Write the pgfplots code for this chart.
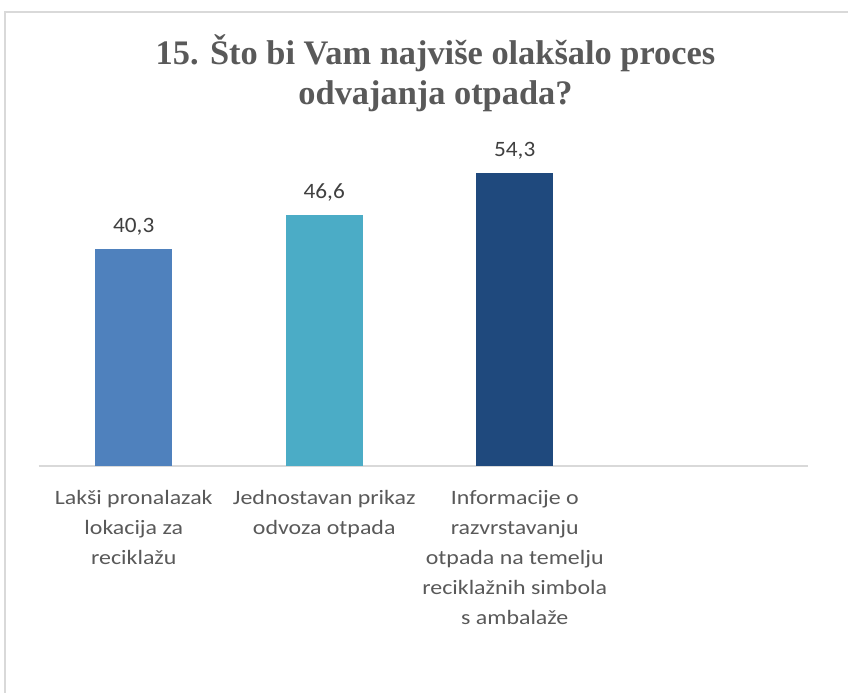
\documentclass[border=0pt]{standalone}
\usepackage{pgfplots}
\pgfplotsset{compat=1.18}
\usepackage{fontspec}
\setmainfont{Carlito}
\newfontfamily\labfont[FakeStretch=1.17]{Carlito}
\newfontfamily\numfont[FakeStretch=1.06]{Carlito}
\newfontfamily\titlefont{Liberation Serif}
\definecolor{barA}{HTML}{4F81BD}
\definecolor{barB}{HTML}{4BACC6}
\definecolor{barC}{HTML}{1F497D}
\definecolor{txt}{HTML}{404040}
\definecolor{lab}{HTML}{595959}
\definecolor{ttl}{HTML}{595959}
\definecolor{frame}{HTML}{D9D9D9}
\begin{document}
\begin{tikzpicture}[x=1bp,y=1bp]
\useasboundingbox (0,0) rectangle (848,693);
\fill[white] (0,0) rectangle (848,693);
\draw[frame, line width=1.5bp] (5,0) -- (5,681) -- (848,681);
\node[anchor=base, inner sep=0pt, font=\titlefont\bfseries\fontsize{34.5}{40}\selectfont, text=ttl] at (435.5,628) {15. Što bi Vam najviše olakšalo proces};
\node[anchor=base, inner sep=0pt, font=\titlefont\bfseries\fontsize{34.5}{40}\selectfont, text=ttl] at (435.5,588) {odvajanja otpada?};
\begin{axis}[
  at={(38.5bp,227bp)}, anchor=south west,
  scale only axis,
  width=769.6bp, height=323.8bp,
  xmin=-0.5, xmax=3.54, ymin=0, ymax=60,
  axis x line*=bottom, axis y line=none,
  x axis line style={draw=frame, line width=2bp, -},
  xtick={0,1,2}, major tick length=0pt,
  xticklabels={{Lakši pronalazak\\lokacija za\\reciklažu},{Jednostavan prikaz\\odvoza otpada},{Informacije o\\razvrstavanju\\otpada na temelju\\reciklažnih simbola\\s ambalaže}},
  xticklabel style={align=center, font=\labfont\fontsize{20.5}{30}\selectfont, text=lab, yshift=-21bp},
  ybar, bar width=77bp,
  nodes near coords, point meta=explicit symbolic,
  nodes near coords style={font=\numfont\fontsize{22}{25}\selectfont, text=txt, anchor=base, yshift=16bp},
  clip=false,
]
\addplot[bar shift=0pt, fill=barA, draw=none] coordinates {(0,40.3) [40,3]};
\addplot[bar shift=0pt, fill=barB, draw=none] coordinates {(1,46.6) [46,6]};
\addplot[bar shift=0pt, fill=barC, draw=none] coordinates {(2,54.3) [54,3]};
\end{axis}
\end{tikzpicture}
\end{document}
